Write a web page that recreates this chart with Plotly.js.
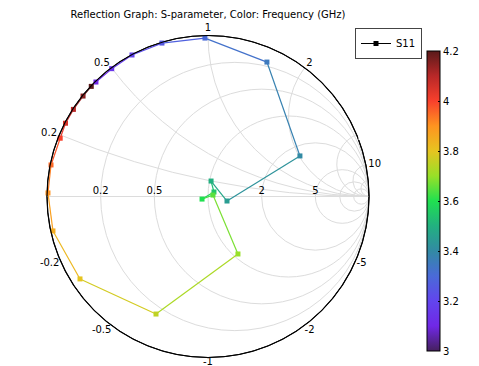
<!DOCTYPE html>
<html>
<head>
<meta charset="utf-8">
<script src="https://cdn.plot.ly/plotly-3.0.1.min.js"></script>
<style>html,body{margin:0;padding:0;background:#fff;}#plot{width:479px;height:366px;}</style>
</head>
<body>
<div id="plot"></div>
<script>
// Frequency (GHz)
var freq = [3.10, 3.15, 3.20, 3.25, 3.30, 3.35, 3.40, 3.45, 3.50, 3.55, 3.60, 3.65,
            3.70, 3.75, 3.80, 3.85, 3.90, 3.95, 4.00, 4.05, 4.10, 4.15, 4.20];
// S11 reflection coefficient, real and imaginary parts
var s11Re = [-0.696, -0.598, -0.472, -0.286, -0.019, 0.366, 0.571, 0.118, 0.019, 0.037, -0.037, 0.031,
             0.186, -0.323, -0.795, -0.963, -0.994, -0.975, -0.918, -0.885, -0.836, -0.776, -0.725];
var s11Im = [0.711, 0.794, 0.879, 0.953, 0.984, 0.835, 0.252, -0.028, 0.096, 0.028, -0.016, 0.009,
             -0.357, -0.730, -0.512, -0.214, 0.022, 0.196, 0.362, 0.455, 0.541, 0.624, 0.684];
// Colour scale (Rainbow) stops
var csVals = [3.0, 3.1, 3.2, 3.3, 3.4, 3.5, 3.6, 3.7, 3.8, 3.9, 4.0, 4.1, 4.2];
var csCols = ['#45205e', '#7028e6', '#6245ee', '#4a6ad8', '#328aa4', '#22b080', '#20e050',
              '#98e028', '#e6c420', '#ff9420', '#f8402c', '#b82828', '#5a1a1a'];
var gridReal = [0.2, 0.5, 1, 2, 5, 10, 20];
var gridImag = [0.2, 0.5, 1, 2, 5, 10, 20];
var labelReal = [0.2, 0.5, 2, 5];
var labelImag = [0.2, 0.5, 1, 2, 5, 10];
var labelImagNeg = [-0.2, -0.5, -1, -2, -5];
var labelImagNegPos = ['bottom left', 'bottom left', 'bottom center', 'bottom right', 'bottom right'];
var cbTicks = [3, 3.2, 3.4, 3.6, 3.8, 4, 4.2];

var fMin = 3.0, fMax = 4.2;
var colorscale = csVals.map(function (v, i) { return [(v - fMin) / (fMax - fMin), csCols[i]]; });

function hex2rgb(h) { return [parseInt(h.substr(1, 2), 16), parseInt(h.substr(3, 2), 16), parseInt(h.substr(5, 2), 16)]; }
function colorAt(f) {
  for (var i = 0; i < csVals.length - 1; i++) {
    if (f <= csVals[i + 1]) {
      var t = (f - csVals[i]) / (csVals[i + 1] - csVals[i]);
      var a = hex2rgb(csCols[i]), b = hex2rgb(csCols[i + 1]);
      return 'rgb(' + [0, 1, 2].map(function (k) { return Math.round(a[k] + t * (b[k] - a[k])); }).join(',') + ')';
    }
  }
  return csCols[csCols.length - 1];
}
// normalized impedance z = (1+G)/(1-G)
var zRe = [], zIm = [];
for (var i = 0; i < freq.length; i++) {
  var gr = s11Re[i], gi = s11Im[i];
  var nr = 1 + gr, ni = gi, dr = 1 - gr, di = -gi;
  var den = dr * dr + di * di;
  zRe.push((nr * dr + ni * di) / den);
  zIm.push((ni * dr - nr * di) / den);
}

var traces = [];
// grid-only subplot
traces.push({ type: 'scattersmith', subplot: 'smith', real: [null], imag: [null], mode: 'markers',
              showlegend: false, hoverinfo: 'skip' });
for (var j = 0; j < freq.length - 1; j++) {
  traces.push({
    type: 'scattersmith', subplot: 'smith2', mode: 'lines',
    real: [zRe[j], zRe[j + 1]], imag: [zIm[j], zIm[j + 1]],
    line: { color: colorAt((freq[j] + freq[j + 1]) / 2), width: 1.2 },
    showlegend: false, hoverinfo: 'skip'
  });
}
traces.push({
  type: 'scattersmith', subplot: 'smith2', mode: 'markers', real: zRe, imag: zIm,
  marker: {
    symbol: 'square', size: 5, color: freq, colorscale: colorscale, cmin: fMin, cmax: fMax,
    showscale: true,
    colorbar: {
      x: 427 / 479, xanchor: 'left', y: 15 / 366, yanchor: 'bottom',
      lenmode: 'pixels', len: 300, thicknessmode: 'pixels', thickness: 13,
      outlinecolor: '#000', outlinewidth: 1, tickvals: cbTicks,
      ticks: 'inside', ticklen: 2, tickcolor: '#000', xpad: 0, ypad: 0,
      tickfont: { size: 10, color: '#000' }
    }
  },
  showlegend: false
});
// negative reactance labels on the outer circle
traces.push({
  type: 'scattersmith', subplot: 'smith2', mode: 'text', cliponaxis: false,
  real: labelImagNeg.map(function () { return 0; }), imag: labelImagNeg,
  text: labelImagNeg.map(String), textposition: labelImagNegPos,
  textfont: { size: 10, color: '#000', family: 'DejaVu Sans' },
  showlegend: false, hoverinfo: 'skip'
});
traces.push({
  type: 'scattersmith', subplot: 'smith2', mode: 'lines+markers', name: 'S11', real: [null], imag: [null],
  line: { color: '#000', width: 1 }, marker: { symbol: 'square', size: 5, color: '#000' },
  showlegend: true
});

var dom = { x: [47 / 479, 369 / 479], y: [8.5 / 366, 330.5 / 366] };
function mask(x0, x1, y0, y1) {
  return { type: 'rect', xref: 'paper', yref: 'paper', layer: 'above',
           x0: x0 / 479, x1: x1 / 479, y0: 1 - y1 / 366, y1: 1 - y0 / 366,
           fillcolor: '#fff', line: { width: 0 } };
}
var layout = {
  width: 479, height: 366,
  margin: { l: 0, r: 0, t: 0, b: 0 },
  paper_bgcolor: '#fff',
  font: { family: 'DejaVu Sans', size: 10, color: '#000' },
  title: { text: 'Reflection Graph: S-parameter, Color: Frequency (GHz)', x: 208 / 479, xanchor: 'center',
           y: 1 - 14 / 366, yanchor: 'middle', font: { size: 10, color: '#000' } },
  showlegend: true,
  legend: { x: 355 / 479, y: 1 - 28 / 366, xanchor: 'left', yanchor: 'top', itemwidth: 30,
            bordercolor: '#444', borderwidth: 1, bgcolor: '#fff', font: { size: 10 } },
  // the reference omits the "∞" and upper "5" edge labels
  shapes: [mask(372, 388, 190, 205), mask(358.5, 370, 124, 140)],
  smith: {
    domain: dom, bgcolor: '#fff',
    realaxis: { tickvals: gridReal, gridcolor: '#dcdcdc', gridwidth: 1, linecolor: '#dcdcdc',
                showticklabels: false, ticks: '' },
    imaginaryaxis: { tickvals: gridImag, gridcolor: '#dcdcdc', gridwidth: 1, linecolor: '#000',
                     showticklabels: false, ticks: '' }
  },
  smith2: {
    domain: dom, bgcolor: 'rgba(0,0,0,0)',
    realaxis: { tickvals: labelReal, showgrid: false, showline: false, ticks: '', tickangle: 0,
                side: 'top', tickfont: { size: 10, color: '#000' } },
    imaginaryaxis: { tickvals: labelImag, showgrid: false, linecolor: '#000', linewidth: 1.2,
                     ticks: '', tickfont: { size: 10, color: '#000' } }
  }
};
Plotly.newPlot('plot', traces, layout, { displayModeBar: false, staticPlot: true });
</script>
</body>
</html>
